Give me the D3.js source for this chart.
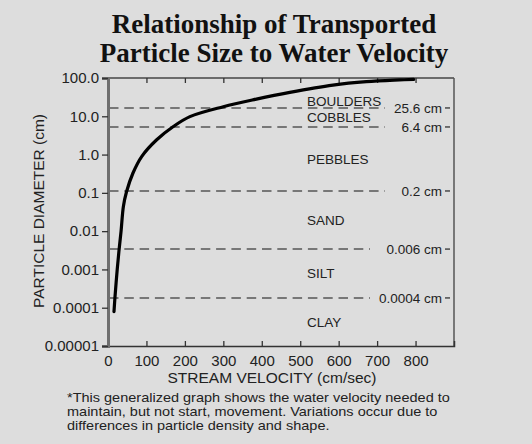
<!DOCTYPE html>
<html><head><meta charset="utf-8">
<script src="https://cdn.jsdelivr.net/npm/d3@7"></script>
<style>
html,body{margin:0;padding:0;background:#dddddd;}
svg{display:block;}
</style></head>
<body>
<svg id="chart" width="532" height="444"></svg>
<script>
// ---- data ----
const titleLines = ["Relationship of Transported", "Particle Size to Water Velocity"];
const xTicks = [0, 100, 200, 300, 400, 500, 600, 700, 800];
const yTicks = [100, 10, 1, 0.1, 0.01, 0.001, 0.0001, 0.00001];
const yTickLabels = ["100.0", "10.0", "1.0", "0.1", "0.01", "0.001", "0.0001", "0.00001"];
// curve: velocity (cm/sec) vs particle diameter (cm)
const velocity = [15.6, 18, 24, 29, 34, 40, 48, 65, 88, 126, 170, 213, 300, 386, 473, 585, 672, 758, 795];
const diameter = [0.000079, 0.00018, 0.001, 0.0034, 0.01, 0.044, 0.105, 0.33, 0.9, 2.4, 5.4, 9.8, 17.8, 28, 42, 65, 80, 89, 92];
// boundary lines (as plotted) and their labels
const boundaryPlotted = [16.5, 5.26, 0.112, 0.0034, 0.00018];
const boundaryLabels = ["25.6 cm", "6.4 cm", "0.2 cm", "0.006 cm", "0.0004 cm"];
const classes = ["BOULDERS", "COBBLES", "PEBBLES", "SAND", "SILT", "CLAY"];
const xTitle = "STREAM VELOCITY (cm/sec)";
const yTitle = "PARTICLE DIAMETER (cm)";
const footnote = ["*This generalized graph shows the water velocity needed to",
  "maintain, but not start, movement. Variations occur due to",
  "differences in particle density and shape."];

// ---- layout ----
const svg = d3.select("#chart");
const L = 108, R = 454, T = 78, B = 346;
const x = d3.scaleLinear().domain([0, 900]).range([L, R]);
const y = d3.scaleLog().domain([0.00001, 100]).range([B, T]);
const sans = "'Liberation Sans', Arial, Helvetica, sans-serif";

svg.append("rect").attr("width", 532).attr("height", 444).attr("fill", "#dddddd");

// title
svg.selectAll("text.title").data(titleLines).join("text")
  .attr("class", "title")
  .attr("x", 274).attr("y", (d, i) => 32.5 + i * 29)
  .attr("text-anchor", "middle")
  .attr("font-family", "'Liberation Serif', 'Times New Roman', serif")
  .attr("font-weight", "bold").attr("font-size", 27).attr("fill", "#111")
  .text(d => d);

// dashed boundary lines
const bg = svg.append("g");
boundaryPlotted.forEach((v, i) => {
  const yy = y(v);
  const endX = boundaryLabels[i].length > 7 ? 370 : 385;
  bg.append("line").attr("x1", L + 1).attr("x2", endX).attr("y1", yy).attr("y2", yy)
    .attr("stroke", "#555").attr("stroke-width", 1.5).attr("stroke-dasharray", "9.5,5.8");
  bg.append("text").attr("x", 442).attr("y", yy).attr("dy", "0.35em")
    .attr("text-anchor", "end").attr("font-family", sans).attr("font-size", 13.5)
    .attr("fill", "#222").text(boundaryLabels[i]);
  bg.append("line").attr("x1", 445).attr("x2", 450).attr("y1", yy).attr("y2", yy)
    .attr("stroke", "#333").attr("stroke-width", 1.3);
});

// class labels
const bounds = [100].concat(boundaryPlotted).concat([0.00001]);
classes.forEach((c, i) => {
  let yy;
  if (i === 0) yy = y(bounds[1]) - 7;
  else yy = (y(bounds[i]) + y(bounds[i + 1])) / 2;
  svg.append("text").attr("x", 307).attr("y", yy).attr("dy", "0.35em")
    .attr("font-family", sans).attr("font-size", 13.5).attr("fill", "#222").text(c);
});

// frame top/right
svg.append("line").attr("x1", L).attr("x2", R).attr("y1", T).attr("y2", T).attr("stroke", "#444").attr("stroke-width", 1.5);
svg.append("line").attr("x1", R).attr("x2", R).attr("y1", T).attr("y2", B).attr("stroke", "#555").attr("stroke-width", 1.5);

// bottom axis
const xb = svg.append("g").attr("transform", `translate(0,${B})`)
  .call(d3.axisBottom(x).tickValues(xTicks).tickSize(-5).tickPadding(9).tickFormat(d3.format("d")));
xb.select(".domain").attr("stroke", "#333").attr("stroke-width", 1.5);
xb.selectAll(".tick line").attr("stroke", "#333").attr("stroke-width", 1.3);
xb.selectAll(".tick text").attr("font-family", sans).attr("font-size", 15).attr("fill", "#222");
xb.selectAll(".tick").filter(d => d === 0).select("line").remove();

// top ticks
const xt = svg.append("g").attr("transform", `translate(0,${T})`)
  .call(d3.axisTop(x).tickValues(xTicks.filter(d => d > 0)).tickSize(-5).tickFormat(""));
xt.select(".domain").remove();
xt.selectAll(".tick line").attr("stroke", "#333").attr("stroke-width", 1.3);

// left axis
const yl = svg.append("g").attr("transform", `translate(${L},0)`)
  .call(d3.axisLeft(y).tickValues(yTicks).tickSize(6).tickPadding(3)
    .tickFormat((d, i) => yTickLabels[i]));
yl.select(".domain").attr("stroke", "#6e6e6e").attr("stroke-width", 3);
yl.selectAll(".tick line").attr("stroke", "#333").attr("stroke-width", 1.3);
yl.selectAll(".tick text").attr("font-family", sans).attr("font-size", 15).attr("fill", "#222");

// curve
const pts = velocity.map((v, i) => [v, diameter[i]]);
svg.append("path").datum(pts)
  .attr("fill", "none").attr("stroke", "#000").attr("stroke-width", 3.2)
  .attr("stroke-linecap", "round")
  .attr("d", d3.line().x(d => x(d[0])).y(d => y(d[1])).curve(d3.curveCatmullRom.alpha(0.5)));

// axis titles
svg.append("text").attr("x", 272).attr("y", 383).attr("text-anchor", "middle")
  .attr("font-family", sans).attr("font-size", 15.5).attr("fill", "#222").text(xTitle);
svg.append("text").attr("transform", "translate(44,211) rotate(-90)").attr("text-anchor", "middle")
  .attr("font-family", sans).attr("font-size", 15.5).attr("fill", "#222").text(yTitle);

// footnote (slightly widened glyphs to match the reference's wide, tightly spaced type)
const fg = svg.append("g").attr("transform", "translate(67,0) scale(1.19,1)");
fg.selectAll("text.foot").data(footnote).join("text").attr("class", "foot")
  .attr("x", 0).attr("y", (d, i) => 402.5 + i * 14)
  .attr("font-family", sans).attr("font-size", 12.2).attr("fill", "#222").text(d => d);
</script>
</body></html>
